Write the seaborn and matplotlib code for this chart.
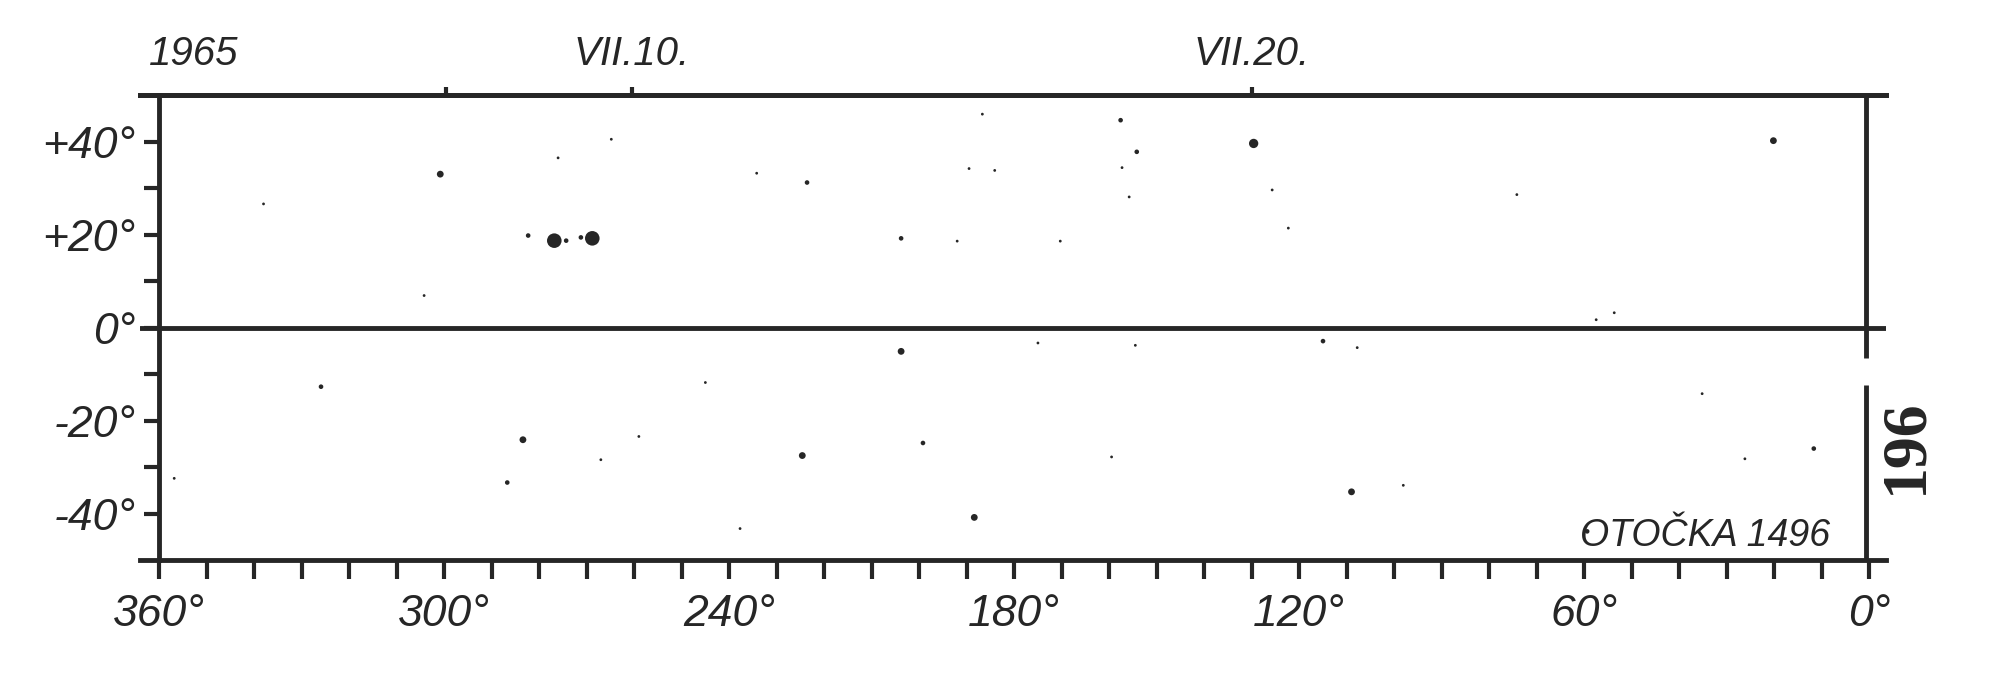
import matplotlib
matplotlib.use("Agg")
import matplotlib.pyplot as plt
import seaborn as sns
import pandas as pd

# ---- data ----
longitude = [300.8, 282.3, 276.8, 274.3, 271.2, 268.8, 338.0, 264.8, 276.0, 304.2,
             325.9, 283.4, 286.7, 267.0, 259.0, 356.8,
             129.6, 157.6, 154.2, 157.3, 155.8, 223.6, 234.2, 203.8, 186.7, 189.5,
             184.1, 192.0, 170.3,
             203.8, 199.2, 224.6, 188.4, 159.5, 154.5, 175.0, 237.7, 245.0,
             20.2, 74.2, 125.7, 122.3, 53.7, 57.5,
             115.0, 107.8, 109.0, 98.1, 35.2, 11.7, 26.2, 59.4]
latitude = [33.0, 19.8, 18.7, 18.7, 19.4, 19.2, 26.6, 40.5, 36.5, 6.9,
            -12.7, -24.1, -33.3, -28.4, -23.4, -32.4,
            39.6, 44.6, 37.8, 34.4, 28.1, 31.2, 33.2, 19.2, 45.9, 34.2,
            33.8, 18.6, 18.6,
            -5.1, -24.8, -27.5, -40.8, -27.8, -3.8, -3.3, -43.2, -11.8,
            40.2, 28.6, 29.6, 21.4, 3.2, 1.7,
            -2.9, -4.3, -35.3, -33.9, -14.2, -26.0, -28.2, -43.8]
spot_class = [3, 2, 5, 2, 2, 5, 1, 1, 1, 1,
              2, 3, 2, 1, 1, 1,
              4, 2, 2, 1, 1, 2, 1, 2, 1, 1,
              1, 1, 1,
              3, 2, 3, 3, 1, 1, 1, 1, 1,
              3, 1, 1, 1, 1, 1,
              2, 1, 3, 1, 1, 2, 1, 2]

x_major_ticks = [360, 300, 240, 180, 120, 60, 0]
x_major_labels = ["360°", "300°", "240°", "180°", "120°", "60°", "0°"]
x_minor_ticks = list(range(0, 361, 10))
y_major_ticks = [40, 20, 0, -20, -40]
y_major_labels = ["+40°", "+20°", "0°", "-20°", "-40°"]
y_minor_ticks = [30, 10, -10, -30]
date_ticks = [260.5, 130.0]
date_labels = ["VII.10.", "VII.20."]
date_minor_ticks = [299.5]
year_label = "1965"
year_lon = 352.8
region_label = "OTOČKA 1496"
page_label = "196"

# frame geometry
x_limits = (364, -3.5)
y_limits = (-50, 50)
frame_right_lon = 0.8
right_frame_segments = ([-6.5, -50], [50, -12.3])  # (starts, ends)

# ---- style ----
sns.set_style("white")
plt.rcParams['font.family'] = ['Liberation Sans', 'DejaVu Sans']
ink = '#262626'
lw = 3.5

fig = plt.figure(figsize=(20, 6.84), dpi=100)
ax = fig.add_axes([0.07, 0.181, 0.873, 0.680])

df = pd.DataFrame(dict(lon=longitude, lat=latitude, cls=spot_class))
size_map = {1: 4, 2: 11, 3: 24, 4: 45, 5: 110}
sns.scatterplot(data=df, x='lon', y='lat', size='cls', sizes=size_map,
                color=ink, edgecolor='none', linewidth=0, legend=False, ax=ax)

ax.set_xlim(*x_limits)
ax.set_ylim(*y_limits)
ax.set_xlabel("")
ax.set_ylabel("")

# spines
ax.spines['right'].set_visible(False)
ax.spines['left'].set_position(('data', 360))
for s in ['left', 'top', 'bottom']:
    ax.spines[s].set_linewidth(lw)
    ax.spines[s].set_color(ink)

ax.axhline(0, color=ink, lw=lw)
ax.vlines([frame_right_lon, frame_right_lon], right_frame_segments[0],
          right_frame_segments[1], color=ink, lw=lw)

tick_font = dict(fontsize=32, style='italic', color=ink)
top_font = dict(fontsize=29, style='italic', color=ink)

ax.set_xticks(x_major_ticks)
ax.set_xticklabels(x_major_labels, **tick_font)
ax.set_xticks(x_minor_ticks, minor=True)
ax.set_yticks(y_major_ticks)
ax.set_yticklabels(y_major_labels, **tick_font)
ax.set_yticks(y_minor_ticks, minor=True)

ax.tick_params(axis='x', which='both', direction='out', length=14, width=3,
               color=ink, pad=10, bottom=True, top=False)
ax.tick_params(axis='y', which='both', direction='out', length=11, width=3,
               color=ink, pad=6, left=True, right=False)

# top date axis
ax_top = ax.secondary_xaxis('top')
ax_top.set_xticks(date_ticks)
ax_top.set_xticklabels(date_labels, **top_font)
ax_top.set_xticks(date_minor_ticks, minor=True)
ax_top.tick_params(axis='x', which='both', direction='out', length=6, width=3,
                   color=ink, pad=10)
ax_top.spines['top'].set_linewidth(lw)
ax_top.spines['top'].set_color(ink)

ax.annotate(year_label, xy=(year_lon, 1.0), xycoords=('data', 'axes fraction'),
            xytext=(0, 16), textcoords='offset points', ha='center', va='bottom',
            **top_font)

ax.text(8.2, -47, region_label, ha='right', va='baseline', fontsize=27,
        style='italic', color=ink)

fig.text(0.953, 0.348, page_label, rotation=90, ha='center', va='center',
         fontsize=46, fontweight='bold', color=ink,
         family=['Liberation Serif', 'DejaVu Serif'])

fig.savefig("out.png", dpi=100, facecolor='white')
